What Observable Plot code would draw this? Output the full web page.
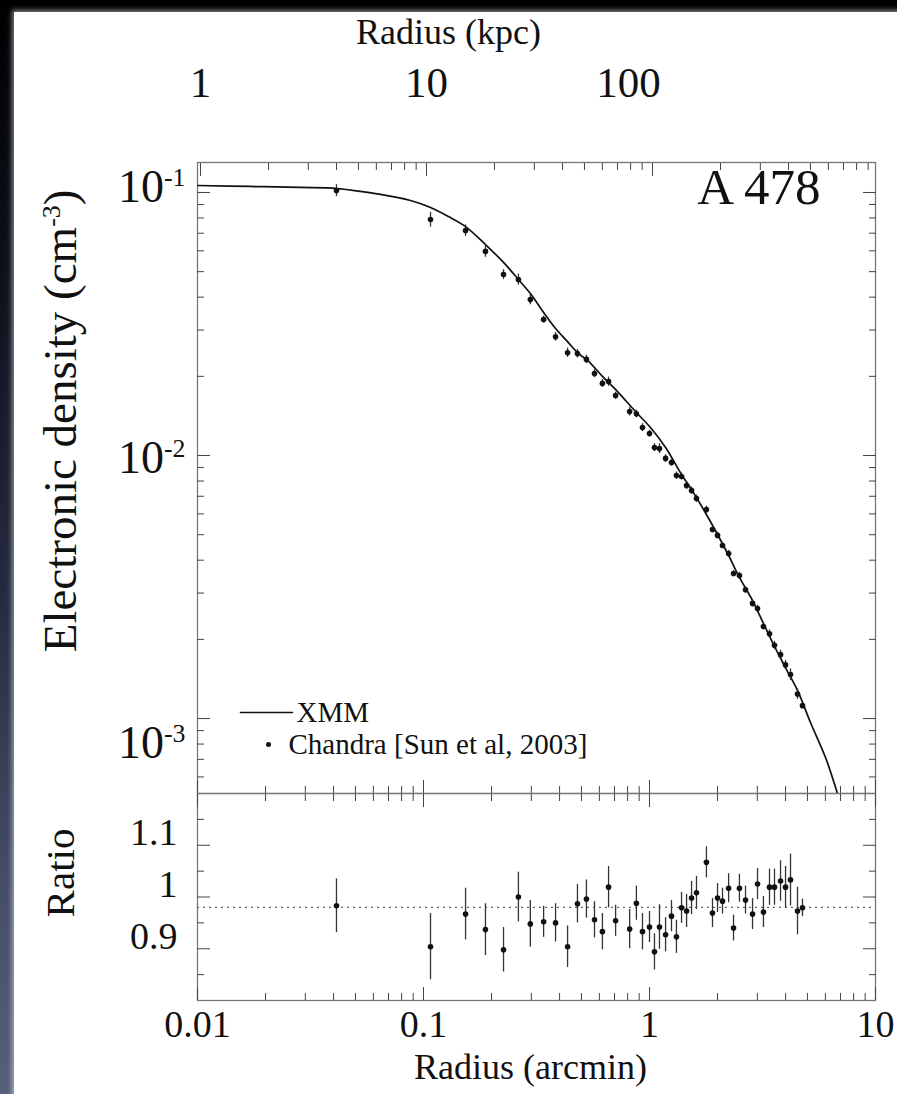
<!DOCTYPE html>
<html>
<head>
<meta charset="utf-8">
<script src="https://cdn.jsdelivr.net/npm/d3@7"></script>
<script src="https://cdn.jsdelivr.net/npm/@observablehq/plot@0.6"></script>
<style>
  html, body { margin: 0; padding: 0; background: #000; }
  #stage { position: relative; width: 897px; height: 1094px; overflow: hidden; background: #000; }
  #edge { position: absolute; left: 0; top: 0; width: 40px; height: 1094px;
          background: linear-gradient(#000 0%, #0d111c 25%, #262c40 55%, #444c66 80%, #566079 100%); }
  #sheet { position: absolute; left: 14px; top: 12px; width: 900px; height: 1100px; background: #fff;
           box-shadow: 0 0 5px 2px rgba(230,235,245,0.55); }
  .fig { position: absolute; left: 0; }
  .fig svg text { font-family: "Liberation Serif", "Times New Roman", serif; }
</style>
</head>
<body>
<div id="stage">
  <div id="edge"></div>
  <div id="sheet"></div>
  <div id="main" class="fig" style="top:0px"></div>
  <div id="ratio" class="fig" style="top:780px"></div>
</div>
<script>
// A 478 electron density profile: XMM deprojected model vs. Chandra points (Sun et al. 2003)

// Chandra profile: radius (arcmin), density (cm^-3), ratio Chandra/XMM, relative error
const chandraRadius = [0.0412, 0.1074, 0.1535, 0.188, 0.226, 0.263, 0.297, 0.340, 0.384, 0.434,
  0.480, 0.526, 0.571, 0.619, 0.659, 0.708, 0.817, 0.875, 0.931, 1.00,
  1.052, 1.107, 1.178, 1.251, 1.316, 1.386, 1.459, 1.535, 1.614, 1.786,
  1.900, 2.00, 2.104, 2.239, 2.354, 2.500, 2.660, 2.857, 3.006, 3.193,
  3.396, 3.573, 3.800, 3.999, 4.207, 4.518, 4.753];
const chandraDensity = [0.1018, 0.0789, 0.0717, 0.0597, 0.0488, 0.0467, 0.0392, 0.0329, 0.0283, 0.0246,
  0.0244, 0.0232, 0.0205, 0.0188, 0.0191, 0.0169, 0.0147, 0.0144, 0.01277, 0.01213,
  0.01072, 0.01063, 0.00975, 0.00940, 0.00839, 0.00832, 0.00769, 0.00736, 0.00686, 0.00623,
  0.00523, 0.00497, 0.00455, 0.00424, 0.00356, 0.00350, 0.00309, 0.00274, 0.00262, 0.00224,
  0.00210, 0.00190, 0.00175, 0.00160, 0.00147, 0.00124, 0.00112];
const chandraRatio = [0.983, 0.904, 0.967, 0.937, 0.898, 1.000, 0.948, 0.952, 0.950, 0.904,
  0.987, 0.996, 0.956, 0.933, 1.019, 0.954, 0.938, 0.988, 0.933, 0.942,
  0.894, 0.942, 0.927, 0.963, 0.923, 0.979, 0.973, 0.998, 1.008, 1.067,
  0.969, 0.998, 0.992, 1.017, 0.940, 1.017, 0.994, 0.967, 1.025, 0.971,
  1.019, 1.019, 1.031, 1.019, 1.033, 0.973, 0.979];
const chandraError = [0.052, 0.064, 0.050, 0.050, 0.043, 0.048, 0.045, 0.030, 0.037, 0.040,
  0.037, 0.037, 0.035, 0.035, 0.040, 0.030, 0.038, 0.033, 0.035, 0.030,
  0.035, 0.043, 0.033, 0.030, 0.032, 0.030, 0.032, 0.032, 0.032, 0.030,
  0.028, 0.028, 0.025, 0.028, 0.025, 0.027, 0.027, 0.030, 0.030, 0.030,
  0.035, 0.035, 0.039, 0.040, 0.050, 0.046, 0.017];

// XMM density model, sampled along the profile
const xmmRadius = [0.0100, 0.01716, 0.02856, 0.04164, 0.06453, 0.0876, 0.1074, 0.129, 0.1535, 0.188,
  0.226, 0.263, 0.297, 0.340, 0.384, 0.434, 0.480, 0.532, 0.619, 0.722,
  0.875, 1.010, 1.178, 1.386, 1.535, 1.786, 2.00, 2.239, 2.500, 2.857,
  3.193, 3.573, 3.999, 4.518, 5.157, 6.009, 6.789];
const xmmDensity = [0.1063, 0.1054, 0.1045, 0.1035, 0.0983, 0.0932, 0.0877, 0.0810, 0.0742, 0.0634,
  0.0542, 0.0467, 0.0413, 0.0350, 0.0304, 0.0271, 0.0246, 0.0230, 0.0200, 0.0175,
  0.01457, 0.01278, 0.01072, 0.00847, 0.00742, 0.00597, 0.00501, 0.00417, 0.00344, 0.00281,
  0.00230, 0.00188, 0.00156, 0.00128, 0.000966, 0.000711, 0.000519];

const ratioReference = 0.98;          // dotted reference level in the ratio panel
const kpcPerArcmin = 97;              // angular-to-physical scale at the cluster redshift

// axis ranges and ticks
const radiusDomain = [0.01, 10];
const densityDomain = [5.19e-4, 0.130];
const ratioDomain = [0.8, 1.2];
const radiusMajor = [0.01, 0.1, 1, 10];
const radiusMinor = [0.02, 0.03, 0.04, 0.05, 0.06, 0.07, 0.08, 0.09,
  0.2, 0.3, 0.4, 0.5, 0.6, 0.7, 0.8, 0.9, 2, 3, 4, 5, 6, 7, 8, 9];
const kpcLabels = [1, 10, 100];
const kpcMinor = [2, 3, 4, 5, 6, 7, 8, 9, 20, 30, 40, 50, 60, 70, 80, 90,
  200, 300, 400, 500, 600, 700, 800, 900];
const densityMajor = [1e-3, 1e-2, 1e-1];
const densityMinor = [6e-4, 7e-4, 8e-4, 9e-4, 2e-3, 3e-3, 4e-3, 5e-3, 6e-3, 7e-3, 8e-3, 9e-3,
  2e-2, 3e-2, 4e-2, 5e-2, 6e-2, 7e-2, 8e-2, 9e-2];
const ratioMajor = [0.9, 1, 1.1];
const ratioMinor = [0.85, 0.95, 1.05, 1.15];

const chandra = chandraRadius.map((r, i) => ({
  r, n: chandraDensity[i], ratio: chandraRatio[i], err: chandraError[i]
}));
const xmm = xmmRadius.map((r, i) => ({r, n: xmmDensity[i]}));

const FONT = 38;
const INK = "#111";
const TICK = "#444";
const blank = () => "";
const style = {fontFamily: "'Liberation Serif', serif", fontSize: FONT + "px", color: INK, background: "transparent", overflow: "visible"};
const kpcToArcmin = k => k / kpcPerArcmin;
const powerOfTen = d => `10^{${Math.round(Math.log10(d))}}`;
const lineShape = {draw(context, l) { context.moveTo(0, 0); context.lineTo(0, -l); }};

// inward tick marks on one side of a panel
function ticksX(anchor, major, minor) {
  return [
    Plot.axisX({anchor, ticks: major, tickSize: -13, tickFormat: blank, label: null, stroke: TICK}),
    Plot.axisX({anchor, ticks: minor, tickSize: -7, tickFormat: blank, label: null, stroke: TICK})
  ];
}
function ticksY(anchor, major, minor) {
  return [
    Plot.axisY({anchor, ticks: major, tickSize: -13, tickFormat: blank, label: null, stroke: TICK}),
    Plot.axisY({anchor, ticks: minor, tickSize: -7, tickFormat: blank, label: null, stroke: TICK})
  ];
}
// density tick labels, each nudged a little as typeset in the figure
const densityLabel = (ticks, dy) => Plot.axisY({anchor: "left", ticks, tickSize: 0, tickPadding: 12, dy,
  label: null, tickFormat: powerOfTen, fontSize: 46});
const kpcLabel = (ticks, dx) => Plot.axisX({anchor: "top", ticks: ticks.map(kpcToArcmin), tickSize: 0, tickPadding: 66, dx,
  label: null, tickFormat: d => String(Math.round(d * kpcPerArcmin)), fontSize: 43});

// turn "a^{b}c" into raised tspans
function superscripts(svg) {
  d3.select(svg).selectAll("text").each(function() {
    const t = this.textContent;
    if (!t.includes("^{")) return;
    const size = parseFloat(getComputedStyle(this).fontSize) || FONT;
    const shift = size * 0.42;
    const el = d3.select(this);
    el.text(null);
    const parts = t.split(/\^\{([^}]*)\}/);
    let raised = false;
    parts.forEach((p, i) => {
      if (p === "") return;
      const sup = i % 2 === 1;
      const ts = el.append("tspan").text(p);
      if (sup) { ts.attr("dy", -shift).attr("font-size", size * 0.68); raised = true; }
      else if (raised) { ts.attr("dy", shift); raised = false; }
    });
  });
}

const mainPlot = Plot.plot({
  width: 897, height: 800,
  marginLeft: 197, marginRight: 22, marginTop: 162, marginBottom: 7,
  style,
  x: {type: "log", domain: radiusDomain},
  y: {type: "log", domain: densityDomain},
  marks: [
    Plot.frame({stroke: "#777", strokeWidth: 1.3}),
    // density axis
    densityLabel([1e-1], -5),
    densityLabel([1e-2], 3),
    densityLabel([1e-3], 25),
    ...ticksY("left", densityMajor, densityMinor),
    ...ticksY("right", densityMajor, densityMinor),
    // physical radius along the top
    kpcLabel([1, 10], 0),
    kpcLabel([100], -24),
    ...ticksX("top", kpcLabels.map(kpcToArcmin), kpcMinor.map(kpcToArcmin)),
    ...ticksX("bottom", radiusMajor, radiusMinor),
    Plot.text(["Radius (kpc)"], {frameAnchor: "top-left", dx: 251, dy: -130, textAnchor: "middle", lineAnchor: "middle", fontSize: 36, fill: INK}),
    Plot.text(["Electronic density (cm^{-3})"], {frameAnchor: "left", dx: -137, dy: -57, rotate: -90, textAnchor: "middle", lineAnchor: "middle", fontSize: 47, fill: INK}),
    Plot.text(["A 478"], {frameAnchor: "top-right", dx: -55, dy: 25, textAnchor: "end", lineAnchor: "middle", fontSize: 51, fill: INK}),
    // XMM model and Chandra points
    Plot.line(xmm, {x: "r", y: "n", stroke: INK, strokeWidth: 1.7, curve: "catmull-rom", clip: true}),
    Plot.ruleX(chandra, {x: "r", y1: d => d.n * (1 - d.err), y2: d => d.n * (1 + d.err), stroke: "#333", strokeWidth: 1.3}),
    Plot.dot(chandra, {x: "r", y: "n", r: 2.8, fill: INK}),
    // legend
    Plot.vector([0], {frameAnchor: "bottom-left", dx: 43, dy: -81, length: 52, rotate: 90, anchor: "start", shape: lineShape, stroke: INK, strokeWidth: 1.6}),
    Plot.text(["XMM"], {frameAnchor: "bottom-left", dx: 99, dy: -81, textAnchor: "start", lineAnchor: "middle", fontSize: 29, fill: INK}),
    Plot.dot([0], {frameAnchor: "bottom-left", dx: 71, dy: -49, r: 2.5, fill: INK}),
    Plot.text(["Chandra [Sun et al, 2003]"], {frameAnchor: "bottom-left", dx: 91, dy: -49, textAnchor: "start", lineAnchor: "middle", fontSize: 29, fill: INK})
  ]
});
superscripts(mainPlot);
document.getElementById("main").append(mainPlot);

const ratioPlot = Plot.plot({
  width: 897, height: 314,
  marginLeft: 197, marginRight: 22, marginTop: 13, marginBottom: 94,
  style,
  x: {type: "log", domain: radiusDomain},
  y: {domain: ratioDomain},
  marks: [
    Plot.frame({stroke: "#777", strokeWidth: 1.3}),
    Plot.ruleY([ratioReference], {stroke: "#666", strokeWidth: 1.2, strokeDasharray: "2,4"}),
    Plot.axisY({anchor: "left", ticks: ratioMajor, tickSize: 0, tickPadding: 20, dy: -12, label: null,
      tickFormat: d => d === 1 ? "1" : d.toFixed(1), fontSize: FONT}),
    ...ticksY("left", ratioMajor, ratioMinor),
    ...ticksY("right", ratioMajor, ratioMinor),
    Plot.axisX({anchor: "bottom", ticks: radiusMajor, tickSize: 0, tickPadding: 10, label: null,
      tickFormat: d => String(d), fontSize: FONT}),
    ...ticksX("bottom", radiusMajor, radiusMinor),
    ...ticksX("top", radiusMajor, radiusMinor),
    Plot.text(["Radius (arcmin)"], {frameAnchor: "bottom", dx: -6, dy: 67, lineAnchor: "middle", fontSize: 36, fill: INK}),
    Plot.text(["Ratio"], {frameAnchor: "left", dx: -137, dy: -24, rotate: -90, textAnchor: "middle", lineAnchor: "middle", fontSize: 41, fill: INK}),
    Plot.ruleX(chandra, {x: "r", y1: d => d.ratio - d.err, y2: d => d.ratio + d.err, stroke: "#333", strokeWidth: 1.3}),
    Plot.dot(chandra, {x: "r", y: "ratio", r: 2.8, fill: INK})
  ]
});
superscripts(ratioPlot);
document.getElementById("ratio").append(ratioPlot);
</script>
</body>
</html>
